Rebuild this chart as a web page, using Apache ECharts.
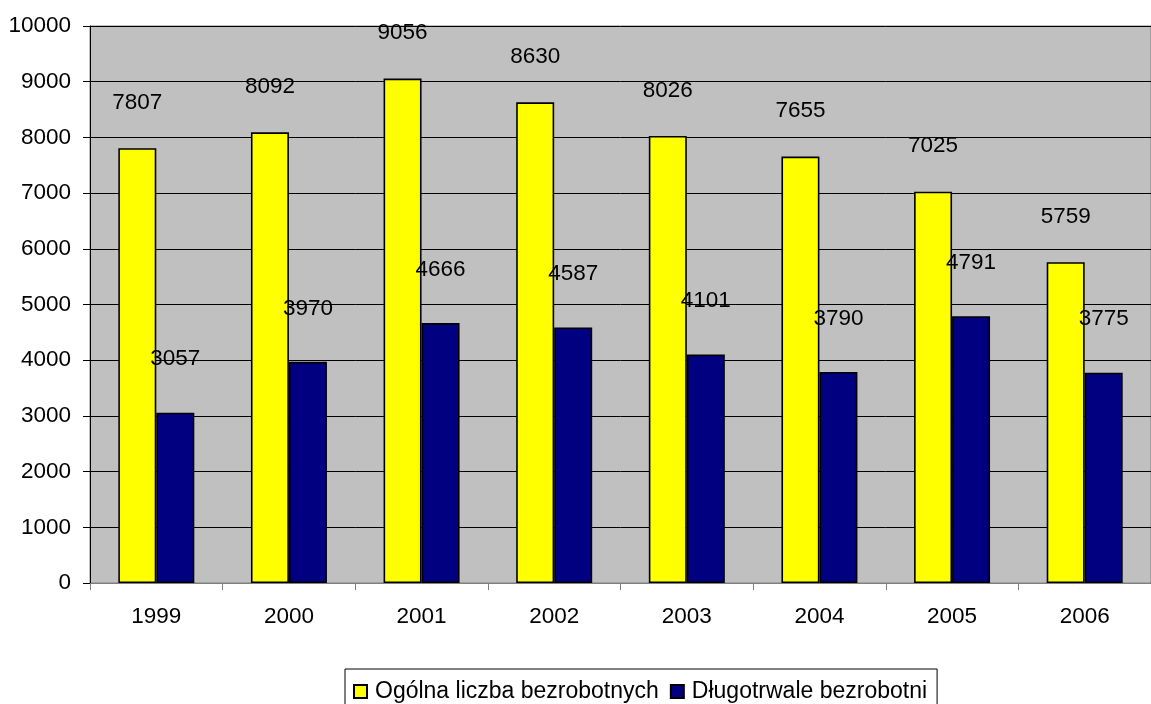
<!DOCTYPE html>
<html>
<head>
<meta charset="utf-8">
<script src="https://cdn.jsdelivr.net/npm/echarts@6/dist/echarts.min.js"></script>
<style>
html,body{margin:0;padding:0;background:#fff;}
#chart{width:1151px;height:704px;}
</style>
</head>
<body>
<div id="chart"></div>
<script>
var categories = ['1999', '2000', '2001', '2002', '2003', '2004', '2005', '2006'];
var totalUnemployed = [7807, 8092, 9056, 8630, 8026, 7655, 7025, 5759];
var longTermUnemployed = [3057, 3970, 4666, 4587, 4101, 3790, 4791, 3775];
var seriesNames = ['Ogólna liczba bezrobotnych', 'Długotrwale bezrobotni'];
var yTicks = { min: 0, max: 10000, interval: 1000 };

var FONT = '"Liberation Sans", Arial, sans-serif';
var chart = echarts.init(document.getElementById('chart'));
chart.setOption({
  animation: false,
  backgroundColor: '#ffffff',
  textStyle: { fontFamily: FONT, color: '#000' },
  grid: {
    left: 90, top: 26, width: 1074, height: 557,
    show: true, backgroundColor: '#c0c0c0', borderColor: '#808080', borderWidth: 1
  },
  legend: {
    left: 345, top: 669,
    padding: [11, 10, 30, 8],
    borderColor: '#000', borderWidth: 1,
    backgroundColor: '#fff',
    itemWidth: 13, itemHeight: 13, itemGap: 11,
    icon: 'rect',
    textStyle: { fontFamily: FONT, fontSize: 23, color: '#000', padding: [0, 0, 0, 3] },
    data: seriesNames
  },
  xAxis: {
    type: 'category',
    data: categories,
    axisLine: { lineStyle: { color: '#808080', width: 1 } },
    axisTick: { show: true, length: 7, lineStyle: { color: '#808080' } },
    axisLabel: { fontSize: 22.5, color: '#000', margin: 22, fontFamily: FONT },
    splitLine: { show: false }
  },
  yAxis: {
    type: 'value',
    min: yTicks.min, max: yTicks.max, interval: yTicks.interval,
    axisLine: { show: true, lineStyle: { color: '#000', width: 1 } },
    axisTick: { show: true, length: 7, lineStyle: { color: '#000' } },
    axisLabel: { fontSize: 22.5, color: '#000', margin: 19, fontFamily: FONT,
      formatter: function (v) { return String(v); } },
    splitLine: { show: true, lineStyle: { color: '#000', width: 1 } }
  },
  series: [
    {
      name: seriesNames[0],
      type: 'bar',
      data: totalUnemployed,
      barWidth: 38,
      barGap: '0%',
      itemStyle: { color: '#ffff00', borderColor: '#000', borderWidth: 1.6 },
      label: { show: true, position: 'top', distance: 34, fontSize: 22.5, color: '#000', fontFamily: FONT }
    },
    {
      name: seriesNames[1],
      type: 'bar',
      data: longTermUnemployed,
      barWidth: 38,
      barGap: '0%',
      itemStyle: { color: '#000080', borderColor: '#000', borderWidth: 1.6 },
      label: { show: true, position: 'top', distance: 42, fontSize: 22.5, color: '#000', fontFamily: FONT }
    }
  ]
});
</script>
</body>
</html>
